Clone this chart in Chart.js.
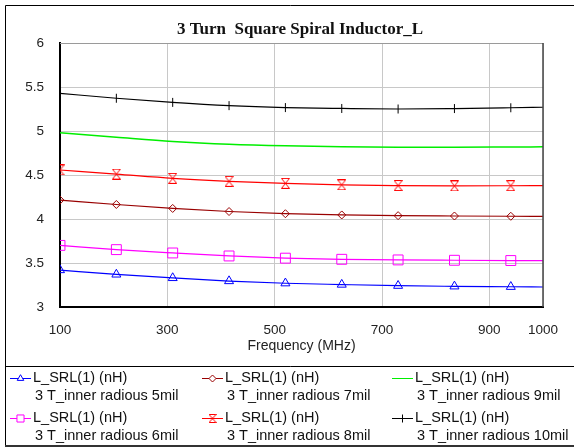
<!DOCTYPE html>
<html>
<head>
<meta charset="utf-8">
<title>3 Turn Square Spiral Inductor_L</title>
<script src="https://cdn.jsdelivr.net/npm/chart.js@4/dist/chart.umd.min.js"></script>
<style>
  body { margin: 0; background: #ffffff; }
  canvas { display: block; }
</style>
</head>
<body>
<canvas id="inductor-chart" width="574" height="448"></canvas>
<script>
// Frequency sweep (MHz) and inductance L_SRL(1) (nH) for each inner radius
var freqs = [100, 205, 310, 415, 520, 625, 730, 835, 940, 1000];
var L_5mil  = [3.42, 3.37, 3.33, 3.295, 3.27, 3.255, 3.242, 3.235, 3.23, 3.227];
var L_6mil  = [3.70, 3.652, 3.614, 3.58, 3.555, 3.542, 3.535, 3.531, 3.528, 3.527];
var L_7mil  = [4.215, 4.165, 4.12, 4.085, 4.06, 4.046, 4.038, 4.034, 4.031, 4.03];
var L_8mil  = [4.557, 4.51, 4.462, 4.428, 4.405, 4.388, 4.38, 4.376, 4.378, 4.38];
var L_9mil  = [4.98, 4.93, 4.882, 4.85, 4.832, 4.822, 4.816, 4.815, 4.818, 4.82];
var L_10mil = [5.428, 5.372, 5.325, 5.288, 5.266, 5.256, 5.25, 5.255, 5.264, 5.27];

var seriesLabel = "L_SRL(1) (nH)";
var seriesNames = ["3 T_inner radious 5mil", "3 T_inner radious 6mil", "3 T_inner radious 7mil",
                   "3 T_inner radious 8mil", "3 T_inner radious 9mil", "3 T_inner radious 10mil"];
var xTicks = [100, 300, 500, 700, 900, 1000];
var yTicks = [3, 3.5, 4, 4.5, 5, 5.5, 6];

var sansFont = "'Liberation Sans', Arial, sans-serif";

// hourglass marker (X with top and bottom bars)
function makeHourglass(color, w, h) {
  var c = document.createElement("canvas");
  c.width = w; c.height = h;
  var g = c.getContext("2d");
  g.strokeStyle = color;
  g.lineWidth = 1;
  g.beginPath();
  g.moveTo(0.5, 0.5); g.lineTo(w - 0.5, 0.5);
  g.lineTo(0.5, h - 0.5); g.lineTo(w - 0.5, h - 0.5);
  g.lineTo(0.5, 0.5);
  g.stroke();
  return c;
}
var hourglass = makeHourglass("#ff0000", 9, 11);
var hourglassSmall = makeHourglass("#ff0000", 8, 9);

// markers on every sample but the last one
function markers(r, n) {
  var a = [];
  for (var i = 0; i < n; i++) a.push(i < n - 1 ? r : 0);
  return a;
}

function series(values, color, style, radius, extra) {
  var pts = freqs.map(function (f, i) { return { x: f, y: values[i] }; });
  var ds = {
    data: pts,
    borderColor: color,
    backgroundColor: "rgba(0,0,0,0)",
    pointBorderColor: color,
    pointBackgroundColor: "rgba(0,0,0,0)",
    pointBorderWidth: 1,
    borderWidth: 1.2,
    pointStyle: style,
    pointRadius: markers(radius, freqs.length),
    pointHoverRadius: 0,
    cubicInterpolationMode: "monotone",
    fill: false
  };
  for (var k in extra) ds[k] = extra[k];
  return ds;
}

var datasets = [
  series(L_5mil, "#0000ff", "triangle", 5.2, { legendStyle: "triangle", legendRadius: 3.8 }),
  series(L_6mil, "#ff00ff", "rect", 7, { legendStyle: "rect", legendRadius: 5 }),
  series(L_7mil, "#990000", "rectRot", 4, { legendStyle: "rectRot", legendRadius: 3.5 }),
  series(L_8mil, "#ff0000", hourglass, 5, { legendStyle: hourglassSmall, legendRadius: 4 }),
  series(L_9mil, "#00ee00", false, 0, { borderWidth: 1.5, legendStyle: false, legendRadius: 0 }),
  series(L_10mil, "#000000", "line", 4.5, { pointRotation: 90, legendStyle: "line", legendRadius: 4, legendRotation: 90 })
];
datasets.forEach(function (ds, i) { ds.label = seriesNames[i]; });

// frame, title and the boxed legend under the plot
var framePlugin = {
  id: "frameAndLegend",
  afterDraw: function (chart) {
    var ctx = chart.ctx;
    var area = chart.chartArea;
    ctx.save();

    // plot border (top and right; left/bottom come from the axes)
    ctx.strokeStyle = "#9a9a9a";
    ctx.lineWidth = 1;
    ctx.beginPath();
    ctx.moveTo(area.left, area.top + 0.5);
    ctx.lineTo(area.right, area.top + 0.5);
    ctx.stroke();
    ctx.strokeStyle = "#444444";
    ctx.lineWidth = 1.5;
    ctx.beginPath();
    ctx.moveTo(area.right, area.top);
    ctx.lineTo(area.right, area.bottom);
    ctx.stroke();

    // outer boxes
    ctx.strokeStyle = "#000000";
    ctx.lineWidth = 1;
    ctx.beginPath();
    ctx.moveTo(600, 5.5); ctx.lineTo(5.5, 5.5); ctx.lineTo(5.5, 446);
    ctx.moveTo(5.5, 366.5); ctx.lineTo(600, 366.5);
    ctx.stroke();
    ctx.strokeStyle = "#333333";
    ctx.lineWidth = 2;
    ctx.beginPath();
    ctx.moveTo(5, 446); ctx.lineTo(600, 446);
    ctx.stroke();

    // title
    ctx.fillStyle = "#111111";
    ctx.font = "bold 17px 'Liberation Serif', 'Times New Roman', serif";
    ctx.textAlign = "center";
    ctx.textBaseline = "middle";
    ctx.fillText("3 Turn  Square Spiral Inductor_L", 300, 30);

    // legend
    var colX = [10, 202, 392];
    var rowY = [378, 418];
    ctx.font = "14.5px " + sansFont;
    ctx.textAlign = "left";
    chart.data.datasets.forEach(function (ds, i) {
      var x0 = colX[Math.floor(i / 2)];
      var y0 = rowY[i % 2];
      ctx.strokeStyle = ds.borderColor;
      ctx.lineWidth = 1;
      ctx.beginPath();
      ctx.moveTo(x0, y0 + 0.5);
      ctx.lineTo(x0 + 21, y0 + 0.5);
      ctx.stroke();
      if (ds.legendStyle) {
        // open marker: white fill so the line does not show through
        ctx.fillStyle = "#ffffff";
        Chart.helpers.drawPoint(ctx, {
          pointStyle: ds.legendStyle,
          radius: ds.legendRadius,
          rotation: ds.legendRotation || 0,
          borderWidth: 1
        }, x0 + 10.5, y0 + 0.5);
      }
      ctx.fillStyle = "#111111";
      ctx.fillText(seriesLabel, x0 + 23, y0);
      ctx.fillText(ds.label, x0 + 25, y0 + 18);
    });
    ctx.restore();
  }
};

var chart = new Chart(document.getElementById("inductor-chart").getContext("2d"), {
  type: "line",
  data: { datasets: datasets },
  plugins: [framePlugin],
  options: {
    responsive: false,
    devicePixelRatio: 1,
    animation: false,
    layout: { padding: { top: 43, right: 31, bottom: 93, left: 0 } },
    plugins: {
      legend: { display: false },
      title: { display: false },
      tooltip: { enabled: false }
    },
    scales: {
      x: {
        type: "linear",
        min: 100,
        max: 1000,
        afterBuildTicks: function (scale) {
          scale.ticks = xTicks.map(function (v) { return { value: v }; });
        },
        afterFit: function (scale) { scale.height = 48; },
        grid: { color: "#c8c8c8", lineWidth: 1, drawTicks: false },
        border: { color: "#000000", width: 2 },
        ticks: {
          padding: 15,
          maxRotation: 0,
          color: "#222222",
          font: { family: sansFont, size: 13.5 },
          callback: function (v) { return String(v); }
        },
        title: {
          display: true,
          text: "Frequency (MHz)",
          color: "#222222",
          padding: { top: 0, bottom: 0 },
          font: { family: sansFont, size: 14 }
        }
      },
      y: {
        min: 3,
        max: 6,
        afterBuildTicks: function (scale) {
          scale.ticks = yTicks.map(function (v) { return { value: v }; });
        },
        afterFit: function (scale) { scale.width = 60; },
        grid: { color: "#c8c8c8", lineWidth: 1, drawTicks: false },
        border: { color: "#000000", width: 2 },
        ticks: {
          padding: 16,
          color: "#222222",
          font: { family: sansFont, size: 13.5 },
          callback: function (v) { return String(v); }
        }
      }
    }
  }
});
</script>
</body>
</html>
